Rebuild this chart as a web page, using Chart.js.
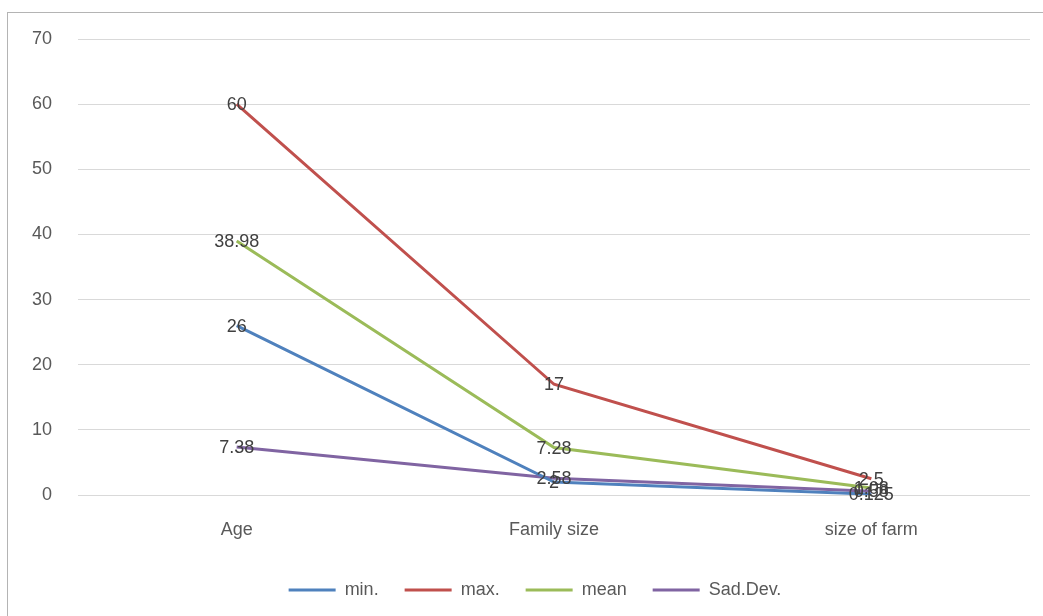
<!DOCTYPE html>
<html>
<head>
<meta charset="utf-8">
<script src="https://cdn.jsdelivr.net/npm/chart.js@4.4.1/dist/chart.umd.min.js"></script>
<style>
  html, body { margin: 0; padding: 0; background: #ffffff; }
  #wrap { position: relative; width: 1043px; height: 616px; overflow: hidden; }
  #frame { position: absolute; left: 7px; top: 12px; width: 1100px; height: 700px;
           border-left: 1px solid #b4b4b4; border-top: 1px solid #b4b4b4; }
  #c { position: absolute; left: 0; top: 0; }
</style>
</head>
<body>
<div id="wrap">
  <div id="frame"></div>
  <canvas id="c" width="1043" height="616"></canvas>
</div>
<script>
const categories = ["Age", "Family size", "size of farm"];
const minValues = [26, 2, 0.125];
const maxValues = [60, 17, 2.5];
const meanValues = [38.98, 7.28, 1.08];
const sdValues = [7.38, 2.58, 0.58];
const yTicks = [0, 10, 20, 30, 40, 50, 60, 70];

const FONT = "'Liberation Sans', Arial, sans-serif";

const labelPlugin = {
  id: 'pointLabels',
  afterLayout(chart) {
    if (chart.legend) { chart.legend.left += 40; }
  },
  afterDatasetsDraw(chart) {
    const ctx = chart.ctx;
    ctx.save();
    ctx.font = "18px " + FONT;
    ctx.fillStyle = "#404040";
    ctx.textAlign = "center";
    ctx.textBaseline = "middle";
    chart.data.datasets.forEach((ds, i) => {
      const meta = chart.getDatasetMeta(i);
      meta.data.forEach((pt, j) => {
        ctx.fillText(String(ds.data[j]), pt.x, pt.y + 1);
      });
    });
    ctx.restore();
  }
};

function ds(label, data, color) {
  return { label, data, borderColor: color, backgroundColor: color, borderWidth: 3,
           pointRadius: 0, pointHoverRadius: 0, tension: 0, fill: false };
}

new Chart(document.getElementById('c'), {
  type: 'line',
  data: {
    labels: categories,
    datasets: [
      ds("min.", minValues, "#4F81BD"),
      ds("max.", maxValues, "#C0504D"),
      ds("mean", meanValues, "#9BBB59"),
      ds("Sad.Dev.", sdValues, "#8064A2")
    ]
  },
  options: {
    responsive: false,
    animation: false,
    devicePixelRatio: 1,
    layout: { padding: { left: 0, right: 13, top: 39, bottom: 7 } },
    plugins: {
      tooltip: { enabled: false },
      legend: {
        position: 'bottom',
        labels: {
          font: { family: FONT, size: 18 },
          color: "#595959",
          boxWidth: 47,
          boxHeight: 3,
          padding: 26,
          generateLabels(chart) {
            return chart.data.datasets.map((d, i) => ({
              text: d.label, fillStyle: d.borderColor, strokeStyle: d.borderColor,
              lineWidth: 0, hidden: false, datasetIndex: i, fontColor: "#595959"
            }));
          }
        }
      }
    },
    scales: {
      x: {
        offset: true,
        grid: { display: false, drawTicks: false, offset: true },
        border: { display: false },
        ticks: { font: { family: FONT, size: 18 }, color: "#595959", padding: 24, maxRotation: 0 },
        afterFit(scale) { scale.height = 60; }
      },
      y: {
        min: 0, max: 70,
        afterBuildTicks(scale) { scale.ticks = yTicks.map(v => ({ value: v })); },
        grid: { color: "#d9d9d9", lineWidth: 1, drawTicks: false },
        border: { display: false },
        ticks: { font: { family: FONT, size: 18 }, color: "#595959", padding: 26 },
        afterFit(scale) { scale.width = 78; }
      }
    }
  },
  plugins: [labelPlugin]
});
</script>
</body>
</html>
